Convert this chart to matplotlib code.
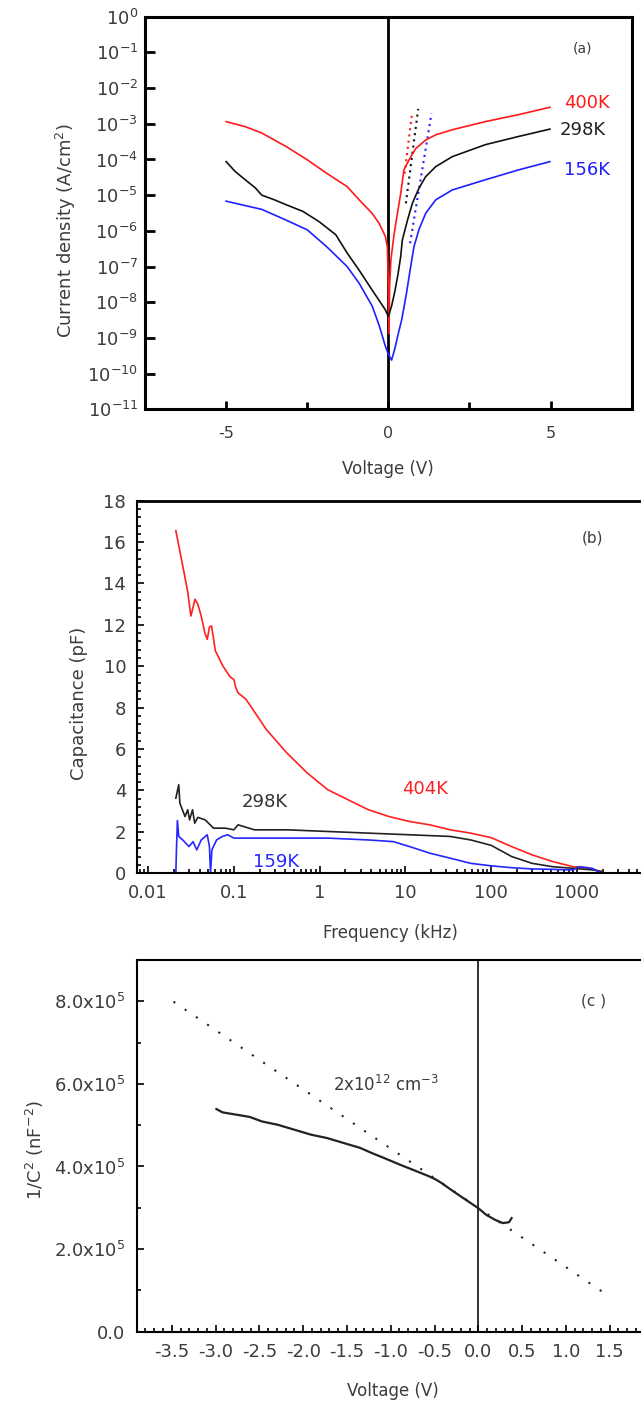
import math
import matplotlib
matplotlib.use("Agg")
import matplotlib.pyplot as plt
from matplotlib.ticker import FixedLocator, FuncFormatter, MultipleLocator, LogLocator, NullFormatter

plt.rcParams['font.family'] = ['DejaVu Sans']
plt.rcParams['mathtext.default'] = 'regular'
plt.rcParams['axes.unicode_minus'] = False

TXT = '#3c3c3c'

# ---- (a) J-V curves at three temperatures ----
v_400 = [-5.0, -4.41, -3.9, -3.15, -2.5, -1.9, -1.27, -0.9, -0.5, -0.28, -0.09, -0.03,
         0.0, 0.02, 0.04, 0.08, 0.18, 0.28, 0.38, 0.48, 0.64, 0.84, 1.15, 1.46, 1.97,
         2.99, 4.01, 4.98]
j_400 = [1.15e-3, 8.3e-4, 5.5e-4, 2.3e-4, 9.8e-5, 4.1e-5, 1.74e-5, 7.4e-6, 3.1e-6, 1.6e-6,
         6.9e-7, 3.5e-7, 3.0e-8, 1.3e-9, 3.0e-8, 1.6e-7, 8.5e-7, 3.1e-6, 1.1e-5, 5.1e-5,
         9.8e-5, 2.0e-4, 3.5e-4, 4.9e-4, 6.8e-4, 1.15e-3, 1.8e-3, 2.9e-3]

v_298 = [-5.0, -4.72, -4.41, -4.1, -3.9, -3.51, -3.15, -2.63, -2.13, -1.62, -1.27, -0.9,
         -0.5, -0.1, 0.0, 0.1, 0.2, 0.3, 0.38, 0.43, 0.59, 0.74, 0.94, 1.15, 1.46, 1.97,
         2.99, 4.01, 4.98]
j_298 = [8.7e-5, 4.6e-5, 2.7e-5, 1.6e-5, 1.0e-5, 7.4e-6, 5.4e-6, 3.5e-6, 1.8e-6, 7.8e-7,
         2.4e-7, 7.9e-8, 2.2e-8, 6.3e-9, 4.0e-9, 7.9e-9, 2.0e-8, 6.3e-8, 1.9e-7, 5.5e-7,
         2.0e-6, 5.9e-6, 1.55e-5, 3.3e-5, 6.3e-5, 1.2e-4, 2.6e-4, 4.4e-4, 7.1e-4]

v_156 = [-5.0, -4.41, -3.9, -3.15, -2.5, -1.9, -1.27, -0.9, -0.5, -0.28, -0.09, 0.0, 0.1,
         0.2, 0.3, 0.41, 0.55, 0.67, 0.79, 0.94, 1.15, 1.46, 1.97, 2.99, 4.01, 4.98]
j_156 = [6.8e-6, 5.1e-6, 4.0e-6, 2.0e-6, 1.07e-6, 3.6e-7, 1.0e-7, 3.4e-8, 7.9e-9, 2.2e-9,
         5.8e-10, 3.5e-10, 2.4e-10, 5.0e-10, 1.26e-9, 3.2e-9, 1.6e-8, 7.9e-8, 3.6e-7,
         1.07e-6, 3.1e-6, 7.4e-6, 1.4e-5, 2.7e-5, 5.1e-5, 8.7e-5]

# straight-line (exponential) fits of the forward branch
fit_v_400 = [0.50, 0.73]
fit_j_400 = [4.0e-5, 1.95e-3]
fit_v_298 = [0.54, 0.92]
fit_j_298 = [5.9e-6, 2.6e-3]
fit_v_156 = [0.67, 1.33]
fit_j_156 = [4.5e-7, 1.95e-3]

# ---- (b) C-f curves ----
f_404 = [0.0211, 0.0254, 0.029, 0.0316, 0.0353, 0.038, 0.0417, 0.046, 0.049, 0.052,
         0.055, 0.061, 0.075, 0.09, 0.1, 0.105, 0.112, 0.139, 0.24, 0.416, 0.72, 1.24,
         2.15, 3.7, 6.45, 11.2, 19.3, 33.3, 57.7, 100, 173, 300, 517, 894, 1380, 1950]
c_404 = [16.55, 14.85, 13.6, 12.43, 13.24, 13.0, 12.43, 11.6, 11.3, 11.9, 11.95, 10.74,
         10.0, 9.5, 9.36, 9.0, 8.72, 8.4, 6.94, 5.81, 4.84, 4.04, 3.55, 3.07, 2.74, 2.5,
         2.34, 2.1, 1.94, 1.72, 1.29, 0.89, 0.57, 0.32, 0.24, 0.08]

f_298 = [0.0211, 0.0228, 0.0235, 0.025, 0.027, 0.029, 0.0305, 0.033, 0.035, 0.038,
         0.0464, 0.058, 0.08, 0.1, 0.112, 0.174, 0.416, 1.24, 3.7, 11.2, 33.3, 57.7, 100,
         173, 300, 517, 894, 1540, 1950]
c_298 = [3.63, 4.28, 3.39, 3.1, 2.74, 3.07, 2.58, 3.07, 2.42, 2.7, 2.58, 2.18, 2.18, 2.1,
         2.34, 2.1, 2.1, 2.02, 1.94, 1.86, 1.78, 1.61, 1.35, 0.81, 0.48, 0.32, 0.24, 0.16,
         0.08]

f_159 = [0.0211, 0.0214, 0.022, 0.0228, 0.0254, 0.03, 0.0335, 0.037, 0.0417, 0.049,
         0.052, 0.0535, 0.0555, 0.063, 0.0735, 0.085, 0.1, 0.118, 0.416, 1.24, 3.7, 7.2,
         11.2, 19.3, 33.3, 57.7, 100, 173, 300, 517, 894, 1070, 1500, 1950]
c_159 = [0.0, 1.0, 2.55, 1.78, 1.61, 1.29, 1.53, 1.13, 1.61, 1.86, 1.29, 0.0, 1.13, 1.61,
         1.78, 1.86, 1.7, 1.7, 1.7, 1.7, 1.61, 1.53, 1.29, 0.97, 0.73, 0.48, 0.36, 0.27,
         0.21, 0.19, 0.16, 0.32, 0.24, 0.0]

# ---- (c) Mott-Schottky plot ----
v_ms = [-2.99, -2.92, -2.75, -2.61, -2.47, -2.29, -2.10, -1.91, -1.73, -1.54, -1.35,
        -1.21, -1.07, -0.89, -0.70, -0.56, -0.49, -0.42, -0.28, -0.14, 0.0, 0.09, 0.19,
        0.28, 0.35, 0.38]
inv_c2 = [5.39e5, 5.31e5, 5.25e5, 5.20e5, 5.09e5, 5.01e5, 4.89e5, 4.77e5, 4.69e5, 4.57e5,
          4.45e5, 4.32e5, 4.20e5, 4.04e5, 3.88e5, 3.76e5, 3.69e5, 3.60e5, 3.39e5, 3.19e5,
          2.99e5, 2.83e5, 2.71e5, 2.63e5, 2.65e5, 2.75e5]
fit_v_ms = [-3.48, 1.47]
fit_c_ms = [7.99e5, 0.89e5]

fig = plt.figure(figsize=(6.41, 14.14), dpi=100)

# ---------------- panel (a) ----------------
ax1 = fig.add_axes([0.2262, 0.7105, 0.7593, 0.2777])
ax1.axvline(0, color='black', lw=2.0, zorder=1)
ax1.semilogy(v_400, j_400, color='#ff1a1a', lw=1.2, zorder=3)
ax1.semilogy(v_298, j_298, color='#111111', lw=1.2, zorder=3)
ax1.semilogy(v_156, j_156, color='#2020ff', lw=1.2, zorder=3)
ax1.semilogy(fit_v_400, fit_j_400, color='#ff1a1a', lw=1.5, ls=(0, (1, 2)))
ax1.semilogy(fit_v_298, fit_j_298, color='#111111', lw=1.5, ls=(0, (1, 2)))
ax1.semilogy(fit_v_156, fit_j_156, color='#2020ff', lw=1.5, ls=(0, (1, 2)))
ax1.set_xlim(-7.5, 7.5)
ax1.set_ylim(1e-11, 1e0)
ax1.xaxis.set_major_locator(FixedLocator([-5, 0, 5]))
ax1.xaxis.set_minor_locator(FixedLocator([-2.5, 2.5]))
ax1.yaxis.set_major_locator(FixedLocator([10.0 ** k for k in range(-11, 1)]))
ax1.yaxis.set_minor_locator(FixedLocator([]))
ax1.yaxis.set_major_formatter(FuncFormatter(lambda v, p: '10$^{%d}$' % round(math.log10(v))))
ax1.tick_params(axis='both', which='both', direction='in', colors='black', labelcolor=TXT,
                width=2.0)
ax1.tick_params(axis='y', which='major', length=7, labelsize=13, pad=5)
ax1.tick_params(axis='x', which='major', length=6, labelsize=11.5, pad=12)
ax1.tick_params(axis='x', which='minor', length=5)
for s in ax1.spines.values():
    s.set_linewidth(2.2)
ax1.set_ylabel('Current density (A/cm$^2$)', fontsize=13, color=TXT)
ax1.yaxis.set_label_coords(-0.137, 0.455)
ax1.set_xlabel('Voltage (V)', fontsize=12, color=TXT)
ax1.xaxis.set_label_coords(0.499, -0.128)
ax1.text(6.12, 3.9e-3, '400K', color='#ff1a1a', fontsize=13, ha='center', va='center')
ax1.text(5.99, 6.8e-4, '298K', color='#222222', fontsize=13, ha='center', va='center')
ax1.text(6.12, 5.1e-5, '156K', color='#2020ff', fontsize=13, ha='center', va='center')
ax1.text(5.99, 0.13, '(a)', color=TXT, fontsize=10, ha='center', va='center')

# ---------------- panel (b) ----------------
ax2 = fig.add_axes([0.2142, 0.3824, 0.8198, 0.2635])
ax2.semilogx(f_404, c_404, color='#ff2020', lw=1.2)
ax2.semilogx(f_298, c_298, color='#222222', lw=1.2)
ax2.semilogx(f_159, c_159, color='#2626ff', lw=1.2)
ax2.set_xlim(0.0075, 1e4)
ax2.set_ylim(0, 18)
ax2.xaxis.set_major_locator(FixedLocator([0.01, 0.1, 1, 10, 100, 1000]))
ax2.xaxis.set_major_formatter(FuncFormatter(lambda v, p: '%g' % v))
ax2.xaxis.set_minor_locator(LogLocator(base=10, subs=range(2, 10), numticks=20))
ax2.xaxis.set_minor_formatter(NullFormatter())
ax2.yaxis.set_major_locator(MultipleLocator(2))
ax2.yaxis.set_minor_locator(MultipleLocator(0.4))
ax2.tick_params(axis='both', which='both', direction='in', labelcolor=TXT, width=1.2)
ax2.tick_params(which='major', length=5, labelsize=13, pad=8)
ax2.tick_params(which='minor', length=3)
for s in ax2.spines.values():
    s.set_linewidth(1.5)
ax2.spines['top'].set_linewidth(2.0)
ax2.set_ylabel('Capacitance (pF)', fontsize=13, color=TXT)
ax2.yaxis.set_label_coords(-0.0944, 0.457)
ax2.set_xlabel('Frequency (kHz)', fontsize=12, color=TXT)
ax2.xaxis.set_label_coords(0.481, -0.136)
ax2.text(0.226, 3.46, '298K', color='#333333', fontsize=13, ha='center', va='center')
ax2.text(17, 4.06, '404K', color='#ff2020', fontsize=13, ha='center', va='center')
ax2.text(0.31, 0.56, '159K', color='#2626ff', fontsize=13, ha='center', va='center')
ax2.text(1510, 16.18, '(b)', color=TXT, fontsize=11, ha='center', va='center')

# ---------------- panel (c) ----------------
ax3 = fig.add_axes([0.2133, 0.0582, 0.8062, 0.2629])
ax3.axvline(0, color='#222222', lw=1.3, zorder=1)
ax3.plot(fit_v_ms, fit_c_ms, color='#222222', lw=1.5, ls=(0, (1, 5.5)))
ax3.plot(v_ms, inv_c2, color='#222222', lw=1.6)
ax3.set_xlim(-3.9, 2.0)
ax3.set_ylim(0, 9e5)
ax3.xaxis.set_major_locator(FixedLocator([-3.5, -3.0, -2.5, -2.0, -1.5, -1.0, -0.5, 0.0,
                                          0.5, 1.0, 1.5]))
ax3.xaxis.set_major_formatter(FuncFormatter(lambda v, p: '%.1f' % v))
ax3.xaxis.set_minor_locator(MultipleLocator(0.1))
ax3.yaxis.set_major_locator(MultipleLocator(2e5))
ax3.yaxis.set_minor_locator(MultipleLocator(1e5))
ax3.yaxis.set_major_formatter(FuncFormatter(
    lambda v, p: '0.0' if v == 0 else '%.1fx10$^5$' % (v / 1e5)))
ax3.tick_params(axis='both', which='both', direction='in', labelcolor=TXT, width=1.2)
ax3.tick_params(which='major', length=5, labelsize=13, pad=8)
ax3.tick_params(which='minor', length=3)
for s in ax3.spines.values():
    s.set_linewidth(1.5)
ax3.set_ylabel('1/C$^2$ (nF$^{-2}$)', fontsize=13, color=TXT)
ax3.yaxis.set_label_coords(-0.1755, 0.489)
ax3.set_xlabel('Voltage (V)', fontsize=12, color=TXT)
ax3.xaxis.set_label_coords(0.495, -0.1353)
ax3.text(-1.05, 5.98e5, '2x10$^{12}$ cm$^{-3}$', color=TXT, fontsize=12,
         ha='center', va='center')
ax3.text(1.31, 8.0e5, '(c )', color=TXT, fontsize=11, ha='center', va='center')

fig.savefig('out.png', dpi=100)
